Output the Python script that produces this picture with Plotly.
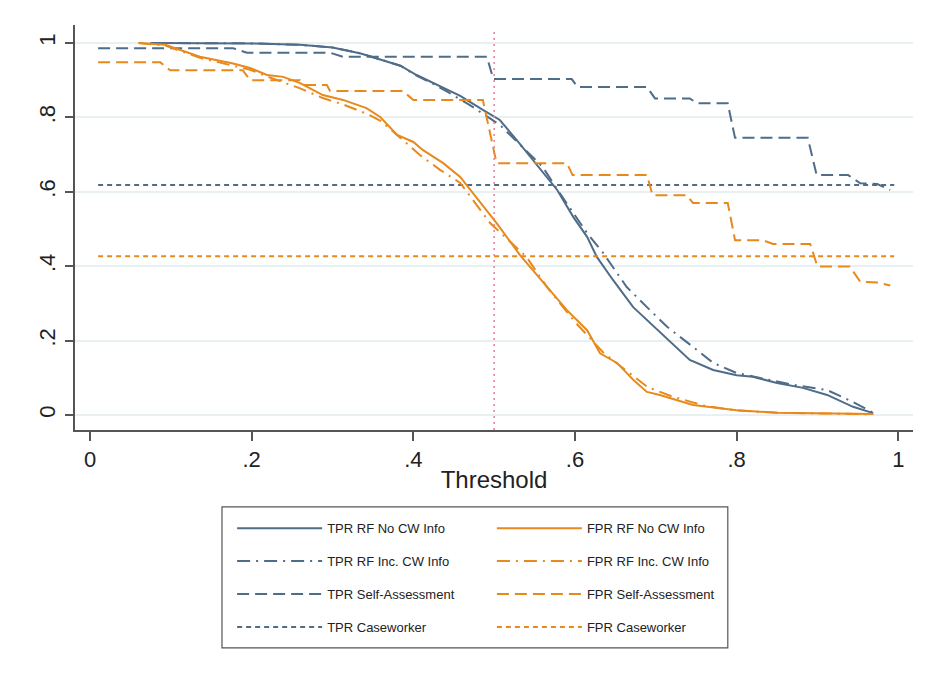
import plotly.graph_objects as go

# ---- data ----
tpr_rf_x = [0.075, 0.15, 0.2, 0.26, 0.30, 0.335, 0.363, 0.384, 0.404, 0.425, 0.458, 0.486, 0.507, 0.528, 0.548,
            0.565, 0.578, 0.598, 0.615, 0.627, 0.647, 0.672, 0.705, 0.742, 0.771, 0.80, 0.82, 0.85, 0.882, 0.912,
            0.944, 0.969]
tpr_rf_y = [1.0, 1.0, 0.999, 0.995, 0.988, 0.972, 0.954, 0.939, 0.914, 0.892, 0.858, 0.82, 0.793, 0.739, 0.685,
            0.64, 0.605, 0.532, 0.479, 0.425, 0.363, 0.29, 0.223, 0.148, 0.121, 0.107, 0.103, 0.086, 0.073, 0.054,
            0.022, 0.005]

tpr_inc_x = [0.075, 0.15, 0.2, 0.26, 0.30, 0.335, 0.363, 0.384, 0.404, 0.425, 0.442, 0.47, 0.507, 0.53, 0.56,
             0.581, 0.598, 0.615, 0.635, 0.664, 0.689, 0.714, 0.746, 0.771, 0.80, 0.829, 0.87, 0.912, 0.944, 0.969]
tpr_inc_y = [1.0, 1.0, 0.999, 0.995, 0.988, 0.972, 0.954, 0.939, 0.912, 0.89, 0.869, 0.833, 0.78, 0.73, 0.667,
             0.597, 0.543, 0.489, 0.435, 0.344, 0.29, 0.237, 0.183, 0.14, 0.113, 0.1, 0.081, 0.067, 0.035, 0.006]

tpr_sa_x = [0.01, 0.177, 0.194, 0.297, 0.313, 0.491, 0.499, 0.596, 0.603, 0.689, 0.699, 0.742, 0.751, 0.789,
            0.798, 0.888, 0.899, 0.938, 0.953, 0.974, 0.99]
tpr_sa_y = [0.986, 0.986, 0.974, 0.974, 0.963, 0.963, 0.903, 0.903, 0.882, 0.882, 0.851, 0.851, 0.838, 0.838,
            0.745, 0.745, 0.645, 0.645, 0.623, 0.621, 0.605]

tpr_cw_x = [0.01, 0.995]
tpr_cw_y = [0.618, 0.618]

fpr_rf_x = [0.06, 0.093, 0.136, 0.177, 0.198, 0.219, 0.239, 0.26, 0.288, 0.313, 0.342, 0.359, 0.38, 0.40, 0.412,
            0.437, 0.458, 0.483, 0.503, 0.532, 0.565, 0.59, 0.615, 0.631, 0.652, 0.672, 0.689, 0.705, 0.746, 0.8,
            0.85, 0.969]
fpr_rf_y = [1.0, 0.995, 0.963, 0.945, 0.933, 0.914, 0.909, 0.892, 0.86, 0.847, 0.825, 0.801, 0.753, 0.734, 0.712,
            0.677, 0.64, 0.57, 0.516, 0.43, 0.344, 0.282, 0.228, 0.166, 0.14, 0.095, 0.062, 0.054, 0.027, 0.013,
            0.006, 0.003]

fpr_inc_x = [0.06, 0.093, 0.136, 0.177, 0.198, 0.219, 0.239, 0.26, 0.288, 0.313, 0.342, 0.36, 0.384, 0.408,
             0.433, 0.458, 0.483, 0.495, 0.54, 0.565, 0.6, 0.635, 0.66, 0.69, 0.72, 0.76, 0.8, 0.85, 0.969]
fpr_inc_y = [1.0, 0.993, 0.96, 0.94, 0.928, 0.91, 0.895, 0.878, 0.852, 0.835, 0.81, 0.79, 0.745, 0.699,
             0.659, 0.624, 0.551, 0.516, 0.425, 0.345, 0.25, 0.168, 0.125, 0.075, 0.05, 0.025, 0.012, 0.006, 0.002]

fpr_sa_x = [0.01, 0.087, 0.099, 0.189, 0.198, 0.26, 0.265, 0.293, 0.297, 0.387, 0.40, 0.486, 0.503, 0.59, 0.597,
            0.689, 0.696, 0.738, 0.746, 0.789, 0.798, 0.832, 0.845, 0.891, 0.90, 0.94, 0.953, 0.974, 0.99]
fpr_sa_y = [0.948, 0.948, 0.927, 0.927, 0.90, 0.90, 0.887, 0.887, 0.871, 0.871, 0.847, 0.847, 0.677, 0.677, 0.645,
            0.645, 0.591, 0.591, 0.57, 0.57, 0.47, 0.47, 0.46, 0.46, 0.399, 0.399, 0.358, 0.356, 0.348]

fpr_cw_x = [0.01, 0.995]
fpr_cw_y = [0.427, 0.427]

threshold_line = 0.5

x_ticks = [0, 0.2, 0.4, 0.6, 0.8, 1]
x_tick_labels = ["0", ".2", ".4", ".6", ".8", "1"]
y_ticks = [0, 0.2, 0.4, 0.6, 0.8, 1]
y_tick_labels = ["0", ".2", ".4", ".6", ".8", "1"]

BLUE = "#4f6c88"
ORANGE = "#e8891c"

series = [
    # name, x, y, color, dash, legend
    ("TPR RF No CW Info", tpr_rf_x, tpr_rf_y, BLUE, "solid", "legend"),
    ("TPR RF Inc. CW Info", tpr_inc_x, tpr_inc_y, BLUE, "13px,6px,2px,6px", "legend"),
    ("TPR Self-Assessment", tpr_sa_x, tpr_sa_y, BLUE, "12px,6px", "legend"),
    ("TPR Caseworker", tpr_cw_x, tpr_cw_y, BLUE, "5px,4px", "legend"),
    ("FPR RF No CW Info", fpr_rf_x, fpr_rf_y, ORANGE, "solid", "legend2"),
    ("FPR RF Inc. CW Info", fpr_inc_x, fpr_inc_y, ORANGE, "13px,6px,2px,6px", "legend2"),
    ("FPR Self-Assessment", fpr_sa_x, fpr_sa_y, ORANGE, "12px,6px", "legend2"),
    ("FPR Caseworker", fpr_cw_x, fpr_cw_y, ORANGE, "5px,4px", "legend2"),
]

fig = go.Figure()
for i, (name, xs, ys, col, dash, leg) in enumerate(series):
    fig.add_trace(go.Scatter(
        x=xs, y=ys, mode="lines", name=name,
        line=dict(color=col, width=2, dash=dash),
        legend=leg, legendgroup=f"g{i}",
    ))

# vertical threshold line
fig.add_shape(type="line", xref="x", yref="paper", x0=threshold_line, x1=threshold_line,
              y0=0, y1=0.988, line=dict(color="#e57f9c", width=1.5, dash="2px,4px"))

# Legend box
fig.add_shape(type="rect", xref="paper", yref="paper", x0=0.1754, x1=0.779, y0=-0.538, y1=-0.190,
              line=dict(color="#555555", width=1.2), fillcolor="rgba(0,0,0,0)")
# faint outer graph region border
fig.add_shape(type="rect", xref="paper", yref="paper", x0=-0.0811, x1=1.05, y0=-0.65, y1=1.049,
              line=dict(color="#ececec", width=1.5), fillcolor="rgba(0,0,0,0)", layer="below")

FONT = "Liberation Sans, Arial, sans-serif"
legend_common = dict(
    bgcolor="rgba(0,0,0,0)", borderwidth=0, font=dict(family=FONT, size=13, color="#222"),
    tracegroupgap=13, itemwidth=85, xanchor="left", yanchor="top", orientation="v",
)
fig.update_layout(
    width=917, height=669,
    margin=dict(l=67, r=12, t=17, b=247),
    paper_bgcolor="white", plot_bgcolor="white",
    font=dict(family=FONT, color="#222"),
    showlegend=True,
    legend=dict(x=0.1875, y=-0.2055, **legend_common),
    legend2=dict(x=0.4975, y=-0.2055, **legend_common),
    xaxis=dict(
        range=[-0.0186, 1.0182], tickvals=x_ticks, ticktext=x_tick_labels,
        showgrid=False, zeroline=False, showline=True, linecolor="#555", linewidth=1.5,
        ticks="outside", ticklen=9, tickwidth=1.5, tickcolor="#555",
        tickfont=dict(size=22, family=FONT, color="#222"),
        title=dict(text="Threshold", font=dict(size=24, family=FONT, color="#222"), standoff=0),
    ),
    yaxis=dict(
        range=[-0.0403, 1.0484], tickvals=y_ticks, ticktext=y_tick_labels, tickangle=-90,
        showgrid=True, gridcolor="#e8f0f2", gridwidth=2, zeroline=False,
        showline=True, linecolor="#555", linewidth=1.5,
        ticks="outside", ticklen=8, tickwidth=1.5, tickcolor="#555", ticklabelstandoff=1,
        tickfont=dict(size=22, family=FONT, color="#222"),
    ),
)

fig.write_html("out.html")
